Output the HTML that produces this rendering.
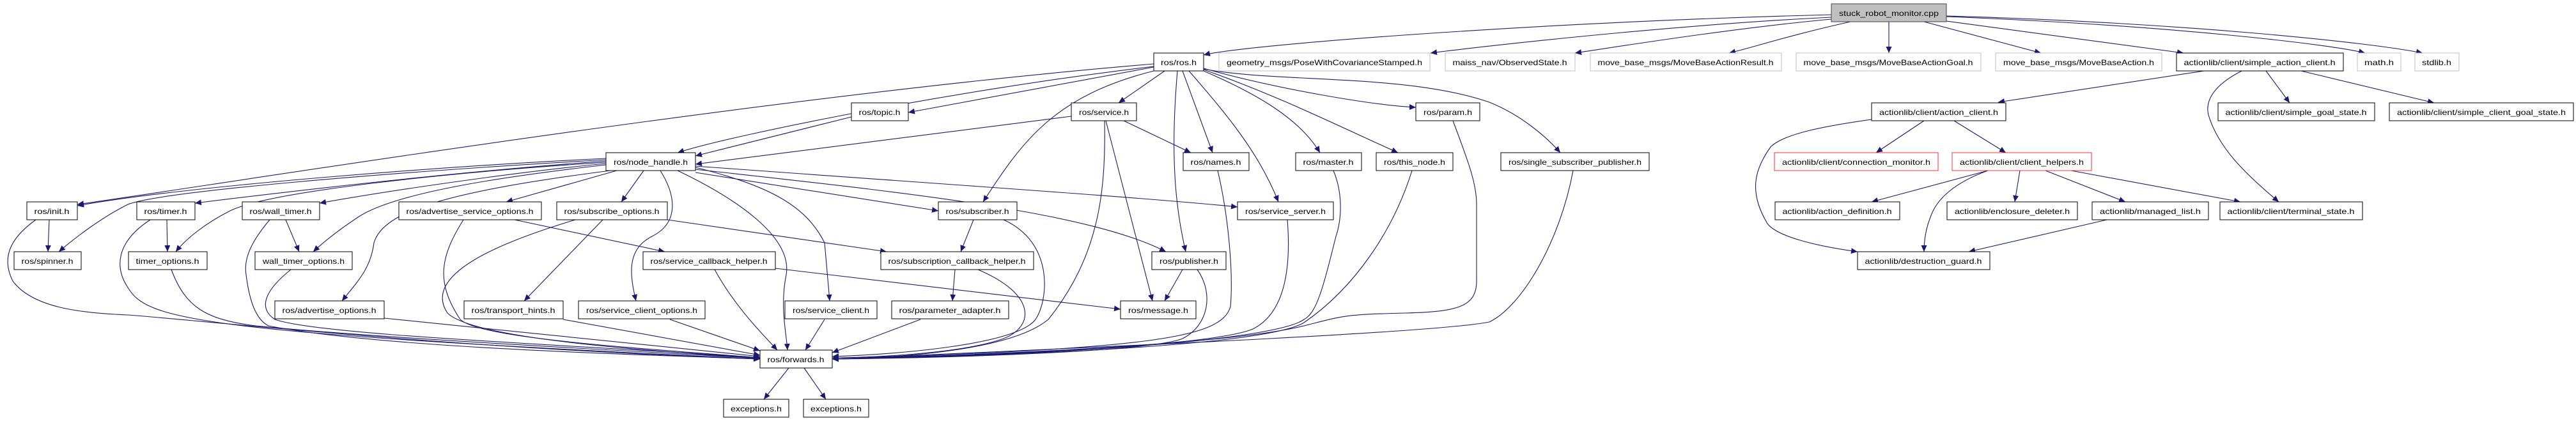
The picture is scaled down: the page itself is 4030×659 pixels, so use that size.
<!DOCTYPE html>
<html><head><meta charset="utf-8"><style>
html,body{margin:0;padding:0;background:#fff;}
svg{display:block;}
text{font-family:"Liberation Sans",sans-serif;font-size:12px;fill:#000;}
.e{fill:none;stroke:#191970;stroke-width:1.1;marker-end:url(#a);}
.n{fill:#fff;stroke:#000;stroke-width:1;}
.g{fill:#fff;stroke:#bfbfbf;stroke-width:1;}
.r{fill:#fff;stroke:#ff3030;stroke-width:1;}
</style></head><body>
<svg width="4030" height="659" viewBox="0 0 4030 659" xmlns="http://www.w3.org/2000/svg">
<defs><marker id="a" markerUnits="userSpaceOnUse" markerWidth="11" markerHeight="9" refX="10" refY="4.5" orient="auto"><path d="M0,0 L10,4.5 L0,9 z" fill="#191970"/></marker></defs>
<g>
<!-- root edges -->
<path class="e" d="M2865,23 C2400,35 1950,70 1883,86"/>
<path class="e" d="M2865,27 C2600,40 2300,75 2238,83"/>
<path class="e" d="M2865,30 C2700,45 2500,78 2464,83"/>
<path class="e" d="M2895,34 C2800,55 2740,75 2705,83"/>
<path class="e" d="M2955,34 L2955,83"/>
<path class="e" d="M3010,34 L3193,83"/>
<path class="e" d="M3045,33 L3416,83"/>
<path class="e" d="M3045,26 C3400,40 3650,70 3700,83"/>
<path class="e" d="M3045,25 C3400,35 3700,65 3790,83"/>
<!-- ros.h edges -->
<path class="e" d="M1805,100 C1200,150 400,280 121,320"/>
<path class="e" d="M1805,104 C1500,140 1150,210 1060,239"/>
<path class="e" d="M1805,105 L1421,176"/>
<path class="e" d="M1822,111 L1750,161"/>
<path class="e" d="M1805,111 C1650,150 1600,220 1538,316"/>
<path class="e" d="M1850,111 L1897,239"/>
<path class="e" d="M1842,111 C1830,250 1840,330 1855,394"/>
<path class="e" d="M1860,111 C1920,180 1970,240 2000,316"/>
<path class="e" d="M1883,111 C1950,140 2030,180 2065,239"/>
<path class="e" d="M1883,109 C2000,150 2100,200 2187,239"/>
<path class="e" d="M1883,107 C2000,140 2150,165 2215,168"/>
<path class="e" d="M1883,108 C2000,130 2200,115 2330,160 C2380,180 2420,215 2441,239"/>
<path class="e" d="M1332,183 L1088,244"/>
<path class="e" d="M1676,182 L1088,257"/>
<!-- node_handle edges -->
<path class="e" d="M948,248 C700,260 300,290 121,322"/>
<path class="e" d="M948,250 C600,270 250,300 200,320 C160,340 120,370 92,394"/>
<path class="e" d="M948,252 C700,270 450,300 305,318"/>
<path class="e" d="M948,254 C700,270 420,300 360,330 C320,350 290,375 275,394"/>
<path class="e" d="M948,256 C800,270 600,300 500,318"/>
<path class="e" d="M948,258 C800,275 620,300 560,340 C530,360 505,380 490,394"/>
<path class="e" d="M955,267 C700,300 600,330 585,380 C580,420 560,440 535,471"/>
<path class="e" d="M965,267 L792,316"/>
<path class="e" d="M1007,267 L972,316"/>
<path class="e" d="M1033,267 C1060,310 1060,350 1020,370 C980,390 985,430 995,471"/>
<path class="e" d="M1060,267 C1150,310 1240,370 1230,430 C1220,480 1230,520 1232,548"/>
<path class="e" d="M1088,262 C1200,290 1260,320 1290,380 L1298,471"/>
<path class="e" d="M1088,270 L1468,330"/>
<path class="e" d="M1088,265 C1400,300 1700,330 1824,394"/>
<path class="e" d="M1088,260 C1500,290 1800,310 1936,324"/>
<!-- options etc -->
<path class="e" d="M805,344 L1040,394"/>
<path class="e" d="M725,344 C690,400 680,440 720,500 C750,530 1000,545 1189,560"/>
<path class="e" d="M1044,344 L1387,394"/>
<path class="e" d="M943,344 L820,471"/>
<path class="e" d="M900,344 C780,380 660,430 700,490 C740,530 1000,548 1189,561"/>
<path class="e" d="M1118,422 C1150,480 1190,520 1216,548"/>
<path class="e" d="M1213,420 L1753,484"/>
<path class="e" d="M881,500 L1189,556"/>
<path class="e" d="M1048,500 L1189,549"/>
<path class="e" d="M1290,500 L1260,548"/>
<path class="e" d="M601,498 L1189,558"/>
<path class="e" d="M77,344 L75,394"/>
<path class="e" d="M56,344 C20,370 0,400 20,440 C50,480 120,490 200,493 C300,500 700,545 1189,562"/>
<path class="e" d="M261,344 L262,394"/>
<path class="e" d="M235,344 C180,380 180,420 200,450 C230,500 300,520 1189,562"/>
<path class="e" d="M268,422 C290,480 320,500 400,510 C600,530 1000,550 1189,561"/>
<path class="e" d="M447,344 L468,394"/>
<path class="e" d="M422,344 C400,370 380,400 385,430 C390,470 400,500 420,510 C600,545 1000,555 1189,562"/>
<path class="e" d="M455,422 C420,450 400,480 430,500 C500,525 900,540 1189,560"/>
<!-- right side into forwards -->
<path class="e" d="M1523,344 L1503,394"/>
<path class="e" d="M1570,344 C1650,380 1640,470 1620,500 C1590,540 1400,555 1302,558"/>
<path class="e" d="M1494,422 L1490,471"/>
<path class="e" d="M1530,422 C1620,460 1620,510 1570,530 C1500,555 1350,560 1302,560"/>
<path class="e" d="M1440,500 L1302,552"/>
<path class="e" d="M1758,189 L1863,239"/>
<path class="e" d="M1730,189 L1803,471"/>
<path class="e" d="M1728,189 C1730,300 1720,400 1640,500 C1580,550 1400,560 1302,562"/>
<path class="e" d="M1850,422 L1822,471"/>
<path class="e" d="M1873,422 C1900,460 1890,510 1850,530 C1800,550 1500,560 1302,562"/>
<path class="e" d="M1905,267 C1920,330 1930,420 1925,480 C1910,530 1800,545 1302,562"/>
<path class="e" d="M2014,344 C2020,420 2010,490 1960,515 C1900,540 1600,555 1302,562"/>
<path class="e" d="M2086,267 C2100,300 2100,340 2090,370 C2070,450 2060,490 2040,500 C2000,530 1700,555 1302,562"/>
<path class="e" d="M2209,267 C2180,360 2120,450 2040,505 C1990,535 1700,555 1302,562"/>
<path class="e" d="M2273,189 C2300,260 2310,290 2310,320 L2310,440 C2310,480 2280,488 2200,490 C2100,492 2100,495 2040,510 C1900,545 1400,560 1302,562"/>
<path class="e" d="M2461,267 C2440,380 2380,480 2330,504 C2250,520 1800,540 1302,562"/>
<path class="e" d="M1234,576 L1195,625"/>
<path class="e" d="M1258,576 L1292,625"/>
<!-- actionlib -->
<path class="e" d="M3448,111 L3126,160"/>
<path class="e" d="M3545,111 L3582,161"/>
<path class="e" d="M3600,111 L3808,161"/>
<path class="e" d="M3507,111 C3460,135 3450,160 3455,180 C3470,230 3510,270 3565,316"/>
<path class="e" d="M3010,189 L2935,239"/>
<path class="e" d="M3057,189 L3138,239"/>
<path class="e" d="M2928,187 C2850,198 2790,210 2770,230 C2745,265 2735,300 2765,350 C2780,370 2840,385 2906,394"/>
<path class="e" d="M3110,267 L2928,316"/>
<path class="e" d="M3110,267 C3060,285 3030,310 3020,340 C3012,360 3010,380 3010,394"/>
<path class="e" d="M3160,267 L3152,316"/>
<path class="e" d="M3200,267 L3325,316"/>
<path class="e" d="M3240,267 L3505,316"/>
<path class="e" d="M3296,344 L3080,394"/>
</g>
<g>
<rect x="2865" y="6" width="180" height="28" fill="#bfbfbf" stroke="#404040"/><text x="2955" y="25" text-anchor="middle" textLength="156" lengthAdjust="spacingAndGlyphs">stuck_robot_monitor.cpp</text>
<rect class="n" x="1805" y="83" width="78" height="28"/><text x="1844" y="102" text-anchor="middle" textLength="56" lengthAdjust="spacingAndGlyphs">ros/ros.h</text>
<rect class="g" x="1907" y="83" width="330" height="28"/><text x="2072" y="102" text-anchor="middle" textLength="306" lengthAdjust="spacingAndGlyphs">geometry_msgs/PoseWithCovarianceStamped.h</text>
<rect class="g" x="2261" y="83" width="203" height="28"/><text x="2362" y="102" text-anchor="middle" textLength="179" lengthAdjust="spacingAndGlyphs">maiss_nav/ObservedState.h</text>
<rect class="g" x="2488" y="83" width="299" height="28"/><text x="2637" y="102" text-anchor="middle" textLength="275" lengthAdjust="spacingAndGlyphs">move_base_msgs/MoveBaseActionResult.h</text>
<rect class="g" x="2810" y="83" width="289" height="28"/><text x="2954" y="102" text-anchor="middle" textLength="265" lengthAdjust="spacingAndGlyphs">move_base_msgs/MoveBaseActionGoal.h</text>
<rect class="g" x="3122" y="83" width="260" height="28"/><text x="3252" y="102" text-anchor="middle" textLength="236" lengthAdjust="spacingAndGlyphs">move_base_msgs/MoveBaseAction.h</text>
<rect class="n" x="3405" y="83" width="261" height="28"/><text x="3535" y="102" text-anchor="middle" textLength="237" lengthAdjust="spacingAndGlyphs">actionlib/client/simple_action_client.h</text>
<rect class="g" x="3688" y="83" width="68" height="28"/><text x="3722" y="102" text-anchor="middle" textLength="46" lengthAdjust="spacingAndGlyphs">math.h</text>
<rect class="g" x="3778" y="83" width="69" height="28"/><text x="3812" y="102" text-anchor="middle" textLength="46" lengthAdjust="spacingAndGlyphs">stdlib.h</text>

<rect class="n" x="1332" y="161" width="89" height="28"/><text x="1376" y="180" text-anchor="middle" textLength="65" lengthAdjust="spacingAndGlyphs">ros/topic.h</text>
<rect class="n" x="1676" y="161" width="102" height="28"/><text x="1727" y="180" text-anchor="middle" textLength="78" lengthAdjust="spacingAndGlyphs">ros/service.h</text>
<rect class="n" x="2215" y="161" width="100" height="28"/><text x="2265" y="180" text-anchor="middle" textLength="76" lengthAdjust="spacingAndGlyphs">ros/param.h</text>
<rect class="n" x="2928" y="161" width="210" height="28"/><text x="3033" y="180" text-anchor="middle" textLength="186" lengthAdjust="spacingAndGlyphs">actionlib/client/action_client.h</text>
<rect class="n" x="3470" y="161" width="245" height="28"/><text x="3592" y="180" text-anchor="middle" textLength="221" lengthAdjust="spacingAndGlyphs">actionlib/client/simple_goal_state.h</text>
<rect class="n" x="3738" y="161" width="288" height="28"/><text x="3882" y="180" text-anchor="middle" textLength="264" lengthAdjust="spacingAndGlyphs">actionlib/client/simple_client_goal_state.h</text>

<rect class="n" x="948" y="239" width="140" height="28"/><text x="1018" y="258" text-anchor="middle" textLength="116" lengthAdjust="spacingAndGlyphs">ros/node_handle.h</text>
<rect class="n" x="1851" y="239" width="103" height="28"/><text x="1902" y="258" text-anchor="middle" textLength="79" lengthAdjust="spacingAndGlyphs">ros/names.h</text>
<rect class="n" x="2027" y="239" width="103" height="28"/><text x="2078" y="258" text-anchor="middle" textLength="79" lengthAdjust="spacingAndGlyphs">ros/master.h</text>
<rect class="n" x="2153" y="239" width="120" height="28"/><text x="2213" y="258" text-anchor="middle" textLength="96" lengthAdjust="spacingAndGlyphs">ros/this_node.h</text>
<rect class="n" x="2348" y="239" width="232" height="28"/><text x="2464" y="258" text-anchor="middle" textLength="208" lengthAdjust="spacingAndGlyphs">ros/single_subscriber_publisher.h</text>
<rect class="r" x="2776" y="239" width="256" height="28"/><text x="2904" y="258" text-anchor="middle" textLength="232" lengthAdjust="spacingAndGlyphs">actionlib/client/connection_monitor.h</text>
<rect class="r" x="3054" y="239" width="218" height="28"/><text x="3163" y="258" text-anchor="middle" textLength="194" lengthAdjust="spacingAndGlyphs">actionlib/client/client_helpers.h</text>

<rect class="n" x="42" y="316" width="79" height="28"/><text x="81" y="335" text-anchor="middle" textLength="55" lengthAdjust="spacingAndGlyphs">ros/init.h</text>
<rect class="n" x="214" y="316" width="91" height="28"/><text x="259" y="335" text-anchor="middle" textLength="67" lengthAdjust="spacingAndGlyphs">ros/timer.h</text>
<rect class="n" x="379" y="316" width="121" height="28"/><text x="439" y="335" text-anchor="middle" textLength="97" lengthAdjust="spacingAndGlyphs">ros/wall_timer.h</text>
<rect class="n" x="624" y="316" width="223" height="28"/><text x="735" y="335" text-anchor="middle" textLength="199" lengthAdjust="spacingAndGlyphs">ros/advertise_service_options.h</text>
<rect class="n" x="871" y="316" width="173" height="28"/><text x="957" y="335" text-anchor="middle" textLength="149" lengthAdjust="spacingAndGlyphs">ros/subscribe_options.h</text>
<rect class="n" x="1468" y="316" width="123" height="28"/><text x="1529" y="335" text-anchor="middle" textLength="99" lengthAdjust="spacingAndGlyphs">ros/subscriber.h</text>
<rect class="n" x="1936" y="316" width="150" height="28"/><text x="2011" y="335" text-anchor="middle" textLength="126" lengthAdjust="spacingAndGlyphs">ros/service_server.h</text>
<rect class="n" x="2777" y="316" width="195" height="28"/><text x="2874" y="335" text-anchor="middle" textLength="171" lengthAdjust="spacingAndGlyphs">actionlib/action_definition.h</text>
<rect class="n" x="3046" y="316" width="204" height="28"/><text x="3148" y="335" text-anchor="middle" textLength="180" lengthAdjust="spacingAndGlyphs">actionlib/enclosure_deleter.h</text>
<rect class="n" x="3273" y="316" width="182" height="28"/><text x="3364" y="335" text-anchor="middle" textLength="158" lengthAdjust="spacingAndGlyphs">actionlib/managed_list.h</text>
<rect class="n" x="3473" y="316" width="223" height="28"/><text x="3584" y="335" text-anchor="middle" textLength="199" lengthAdjust="spacingAndGlyphs">actionlib/client/terminal_state.h</text>

<rect class="n" x="22" y="394" width="105" height="28"/><text x="74" y="413" text-anchor="middle" textLength="81" lengthAdjust="spacingAndGlyphs">ros/spinner.h</text>
<rect class="n" x="201" y="394" width="123" height="28"/><text x="262" y="413" text-anchor="middle" textLength="99" lengthAdjust="spacingAndGlyphs">timer_options.h</text>
<rect class="n" x="399" y="394" width="152" height="28"/><text x="475" y="413" text-anchor="middle" textLength="128" lengthAdjust="spacingAndGlyphs">wall_timer_options.h</text>
<rect class="n" x="1006" y="394" width="207" height="28"/><text x="1109" y="413" text-anchor="middle" textLength="183" lengthAdjust="spacingAndGlyphs">ros/service_callback_helper.h</text>
<rect class="n" x="1378" y="394" width="239" height="28"/><text x="1497" y="413" text-anchor="middle" textLength="215" lengthAdjust="spacingAndGlyphs">ros/subscription_callback_helper.h</text>
<rect class="n" x="1802" y="394" width="116" height="28"/><text x="1860" y="413" text-anchor="middle" textLength="92" lengthAdjust="spacingAndGlyphs">ros/publisher.h</text>
<rect class="n" x="2906" y="394" width="207" height="28"/><text x="3009" y="413" text-anchor="middle" textLength="183" lengthAdjust="spacingAndGlyphs">actionlib/destruction_guard.h</text>

<rect class="n" x="430" y="471" width="171" height="28"/><text x="515" y="490" text-anchor="middle" textLength="147" lengthAdjust="spacingAndGlyphs">ros/advertise_options.h</text>
<rect class="n" x="726" y="471" width="155" height="28"/><text x="803" y="490" text-anchor="middle" textLength="131" lengthAdjust="spacingAndGlyphs">ros/transport_hints.h</text>
<rect class="n" x="905" y="471" width="198" height="28"/><text x="1004" y="490" text-anchor="middle" textLength="174" lengthAdjust="spacingAndGlyphs">ros/service_client_options.h</text>
<rect class="n" x="1228" y="471" width="144" height="28"/><text x="1300" y="490" text-anchor="middle" textLength="120" lengthAdjust="spacingAndGlyphs">ros/service_client.h</text>
<rect class="n" x="1395" y="471" width="183" height="28"/><text x="1486" y="490" text-anchor="middle" textLength="159" lengthAdjust="spacingAndGlyphs">ros/parameter_adapter.h</text>
<rect class="n" x="1753" y="471" width="118" height="28"/><text x="1812" y="490" text-anchor="middle" textLength="94" lengthAdjust="spacingAndGlyphs">ros/message.h</text>

<rect class="n" x="1189" y="548" width="113" height="28"/><text x="1245" y="567" text-anchor="middle" textLength="89" lengthAdjust="spacingAndGlyphs">ros/forwards.h</text>
<rect class="n" x="1132" y="625" width="102" height="28"/><text x="1183" y="644" text-anchor="middle" textLength="80" lengthAdjust="spacingAndGlyphs">exceptions.h</text>
<rect class="n" x="1257" y="625" width="102" height="28"/><text x="1308" y="644" text-anchor="middle" textLength="80" lengthAdjust="spacingAndGlyphs">exceptions.h</text>
</g>
</svg>
</body></html>
